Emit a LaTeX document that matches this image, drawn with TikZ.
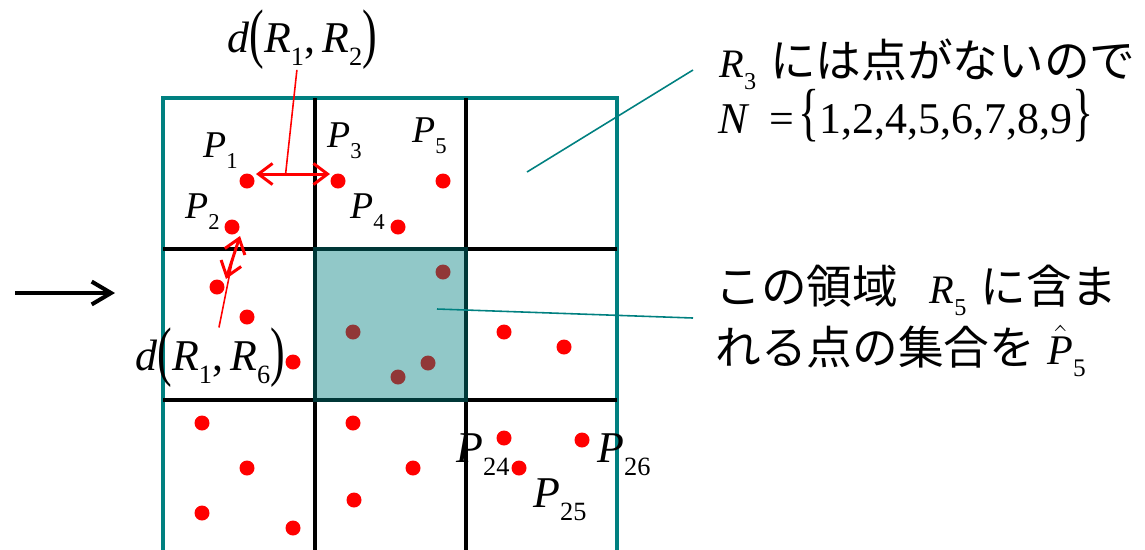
\documentclass[tikz,border=0pt]{standalone}
\usepackage{fontspec}
\usepackage{graphicx}
\setmainfont{Liberation Serif}
\newfontfamily\jp{Noto Sans CJK JP}
\usetikzlibrary{arrows.meta}
\newcommand\ix[2]{\textit{#1}\raisebox{-.3em}{\scalebox{.6}{#2}}}
\newcommand\bp[1]{\raisebox{-.08em}{\scalebox{1}[1.5]{#1}}}
\newcommand\brc[1]{\scalebox{1}[1.45]{#1}}
\newcommand\jt[1]{{\jp\fontsize{26}{30}\selectfont #1}}
\newcommand\hatP{\(\hat{\mbox{\textit{P}}}\)}

\begin{document}
\begin{tikzpicture}[x=0.02cm, y=-0.02cm,
    dot/.style={circle, fill=red, inner sep=0pt, minimum size=0.3cm},
    lab/.style={anchor=base west, inner sep=0pt, font=\fontsize{21.5}{26}\selectfont},
    labbig/.style={lab, font=\fontsize{25}{30}\selectfont},
    jtxt/.style={anchor=base west, inner sep=0pt, font=\fontsize{23}{27}\selectfont},
    gridline/.style={line width=2.3pt},
    frame/.style={teal, line width=2.3pt},
    dist/.style={red, line width=1.7pt,
      {Straight Barb[length=8pt,width=12pt]}-{Straight Barb[length=8pt,width=12pt]}},
    lead/.style={red, line width=0.9pt},
    callout/.style={teal, line width=0.9pt}]
  \clip (0,0) rectangle (1145,549);

  % regions R1 ... R9
  \draw[frame] (163,98) rectangle (617,620);
  \foreach \x in {315,466} { \draw[gridline] (\x,98) -- (\x,620); }
  \foreach \y in {249,400} { \draw[gridline] (163,\y) -- (617,\y); }

  % points
  \node[dot] (p1) at (247,181) {};
  \node[dot] (p2) at (232,227) {};
  \node[dot] (p3) at (338,181) {};
  \node[dot] (p4) at (398,227) {};
  \node[dot] (p5) at (443,181) {};
  \node[dot] (q1) at (217,287) {};
  \node[dot] (p24) at (504,438) {};
  \node[dot] (p25) at (519,468) {};
  \node[dot] (p26) at (582,440) {};
  \foreach \x/\y [count=\i] in {247/317, 293/362, 443/272, 353/332, 428/363, 398/377,
      504/332, 564/347, 202/423, 247/468, 202/513, 293/528, 353/423, 413/468, 354/500}
    { \node[dot] (d\i) at (\x,\y) {}; }

  \fill[teal, fill opacity=0.43] (313,247) rectangle (468,402);

  % labels of the points
  \node[lab] (lp1) at (203,157) {\ix{P}{1}};
  \node[lab] (lp2) at (185,218) {\ix{P}{2}};
  \node[lab] (lp3) at (327,147) {\ix{P}{3}};
  \node[lab] (lp4) at (350,218) {\ix{P}{4}};
  \node[lab] (lp5) at (412,142) {\ix{P}{5}};
  \node[labbig] (lp24) at (456,462) {\ix{P}{24}};
  \node[labbig] (lp25) at (533,507) {\ix{P}{25}};
  \node[labbig] (lp26) at (597,462) {\ix{P}{26}};

  % distances
  \node[labbig] (d12) at (227,52) {\textit{d}\bp{(}\ix{R}{1},\,\ix{R}{2}\bp{)}};
  \node[labbig] (d16) at (135,370) {\textit{d}\bp{(}\ix{R}{1},\,\ix{R}{6}\bp{)}};
  \draw[dist] ([shift={(9,-7)}]p1.center) -- coordinate[pos=0.4] (m12) ([shift={(-8,-7)}]p3.center);
  \draw[dist] ([shift={(8,9)}]p2.center) -- coordinate[pos=0.5] (m16) ([shift={(9,-8)}]q1.center);
  \draw[lead] ([xshift=-3pt]d12.south) -- (m12);
  \draw[lead] ([xshift=5pt]d16.north) -- (m16);

  % input arrow
  \coordinate (in0) at (15,293);
  \coordinate (in1) at (115,293);
  \draw[line width=2.3pt, -{Straight Barb[length=11pt,width=13pt]}] (in0) -- (in1);

  % remarks
  \node[jtxt] (r3txt) at (719,77) {\ix{R}{3}\hspace{8pt}\jt{には点がないので}};
  \node[jtxt, font=\fontsize{25}{30}\selectfont] (ntxt) at (718,133)
    {\textit{N}\hspace{.45em}=\hspace{.1em}\brc{\{}1,2,4,5,6,7,8,9\brc{\}}};
  \node[jtxt] (regtxt) at (715,303) {\jt{この領域}\hspace{18pt}\ix{R}{5}\hspace{8pt}\jt{に含ま}};
  \node[jtxt, font=\fontsize{24}{28}\selectfont] (settxt) at (715,364)
    {\jt{れる点の集合を}\hspace{7pt}\ix{\hatP}{5}};

  \coordinate (r3pt) at (527,172);
  \coordinate (r5pt) at (437,309);
  \draw[callout] (r3pt) -- ([shift={(-26,-7)}]r3txt.base west);
  \draw[callout] (r5pt) -- ([shift={(-22,15)}]regtxt.base west);
\end{tikzpicture}
\end{document}
